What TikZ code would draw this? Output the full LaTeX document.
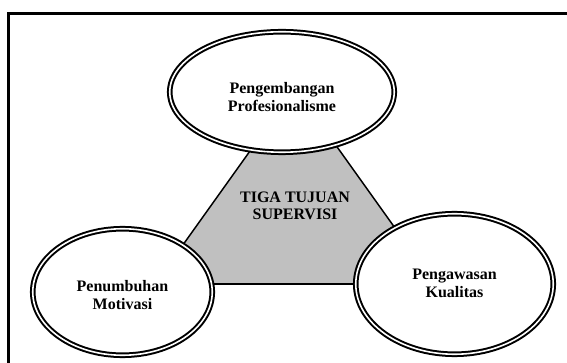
\documentclass[tikz,border=0pt]{standalone}
\usepackage{fontspec}
\setmainfont{Liberation Serif}
\usetikzlibrary{shapes.geometric}
\definecolor{trigray}{RGB}{192,192,192}
\begin{document}
\begin{tikzpicture}[x=1pt,y=-1pt,
  goal/.style={ellipse, draw=black, fill=white, double=white,
    double distance=1.6pt, line width=2pt, inner sep=0pt},
  label/.style={align=center, inner sep=0pt,
    font=\bfseries\fontsize{16}{17.5}\selectfont},
  edge/.style={draw=black, line width=1.5pt}]
\fill[white] (0,0) rectangle (567,363);
\useasboundingbox (0,0) rectangle (567,363);
% outer frame
\draw[line width=3pt] (8.5,366) -- (8.5,13.5) -- (570,13.5);
% triangle
\coordinate (apex) at (295,88);
\coordinate (bl) at (155,284);
\coordinate (br) at (435,284);
\fill[trigray] (apex) -- (br) -- (bl) -- cycle;
\draw[edge] (bl) -- (apex) -- (br);
\draw[edge, line width=2.2pt] (bl) -- (br);
\node[label] (core) at (295,206) {TIGA TUJUAN\\SUPERVISI};
% goals
\node[goal, minimum width=224.5pt, minimum height=120.5pt] (prof) at (282,92) {};
\node[label] (proftext) at (282,97) {Pengembangan\\Profesionalisme};
\node[goal, minimum width=179.5pt, minimum height=126.5pt] (motiv) at (122.5,292) {};
\node[label] (motivtext) at (122.5,295) {Penumbuhan\\Motivasi};
\node[goal, minimum width=197.5pt, minimum height=140.5pt] (kual) at (454.5,284) {};
\node[label] (kualtext) at (454.5,283.5) {Pengawasan\\Kualitas};
\end{tikzpicture}
\end{document}
